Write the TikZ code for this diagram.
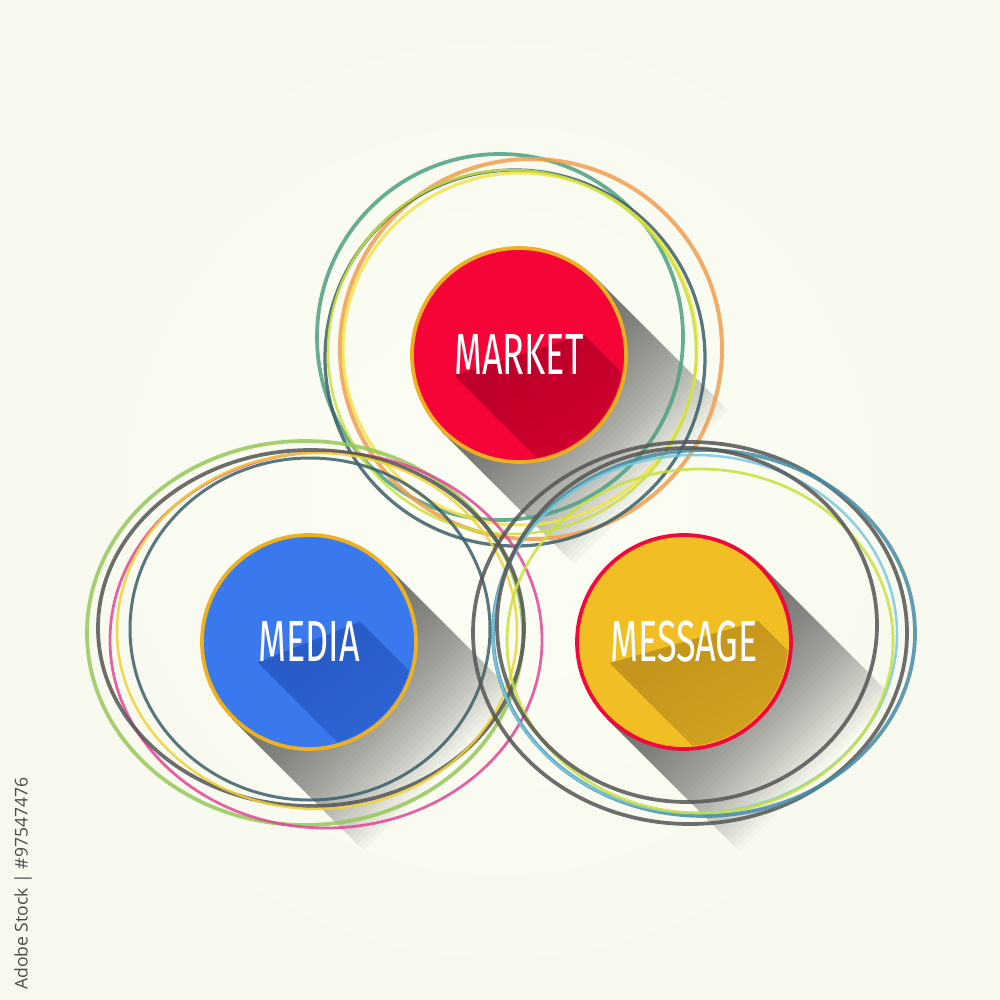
\documentclass[tikz,border=0pt]{standalone}
\usepackage{fontspec}
\newfontfamily\handfont[FakeStretch=0.62]{Fira Sans}
\newfontfamily\idfont{Open Sans}
\usetikzlibrary{fadings}

\definecolor{paper}{RGB}{252,253,244}
\definecolor{paperedge}{RGB}{248,249,238}
\definecolor{gold}{RGB}{236,176,32}
\definecolor{mktred}{RGB}{245,5,55}
\definecolor{mktdark}{RGB}{190,0,42}
\definecolor{medblue}{RGB}{58,120,238}
\definecolor{meddark}{RGB}{40,92,200}
\definecolor{msgyellow}{RGB}{241,190,35}
\definecolor{msgdark}{RGB}{196,150,28}
\definecolor{msgrim}{RGB}{240,10,60}
\definecolor{ringteal}{RGB}{78,160,130}
\definecolor{ringorange}{RGB}{240,160,80}
\definecolor{ringslate}{RGB}{60,95,105}
\definecolor{ringyellow}{RGB}{242,228,70}
\definecolor{ringlime}{RGB}{200,225,60}
\definecolor{ringgreen}{RGB}{150,200,90}
\definecolor{ringpink}{RGB}{225,70,150}
\definecolor{ringgray}{RGB}{85,85,85}
\definecolor{ringgold}{RGB}{240,210,50}
\definecolor{ringsteel}{RGB}{70,140,165}
\definecolor{ringsky}{RGB}{120,200,225}

% word shadows get lighter towards the rim
\pgfdeclarehorizontalshading{wordshade}{100bp}{color(0bp)=(transparent!0); color(30bp)=(transparent!0); color(85bp)=(transparent!70); color(100bp)=(transparent!70)}
\pgfdeclarefading{wordfade}{\pgfuseshading{wordshade}}

\pgfdeclarelayer{back}
\pgfdeclarelayer{shadows}
\pgfdeclarelayer{rings}
\pgfdeclarelayer{front}
\pgfsetlayers{back,shadows,rings,main,front}

\tikzset{
  bubble/.style={circle, minimum size=42.8mm, inner sep=0pt, line width=0.75mm},
  bubbletext/.style={font=\handfont\fontsize{33}{33}\selectfont, inner sep=0pt, text=white},
  ring/.style={opacity=0.85}
}

\begin{document}
\begin{tikzpicture}[x=0.2mm, y=-0.2mm]
\useasboundingbox (0,0) rectangle (1000,1000);
\begin{pgfonlayer}{back}
  \shade[inner color=paper, outer color=paperedge] (0,0) rectangle (1000,1000);
\end{pgfonlayer}

% the three discs
\node[bubble, fill=mktred, draw=gold] (market) at (519,355) {};
\node[bubble, fill=medblue, draw=gold] (media) at (309,642) {};
\node[bubble, fill=msgyellow, draw=msgrim] (message) at (684,642) {};

\begin{pgfonlayer}{front}
  \node[bubbletext] (market-text) at (market) {MARKET};
  \node[bubbletext] (media-text) at (media) {MEDIA};
  \node[bubbletext] (message-text) at (message) {MESSAGE};
\end{pgfonlayer}

% long shadows: stacked thin layers, so they thin out towards the end
\begin{pgfonlayer}{shadows}
  \foreach \b in {market,media,message}
    \foreach \k in {1,...,40}{
      \pgfmathsetmacro\d{3.3*\k}
      \fill[black!70, opacity=0.036]
        (\b.45) -- ([shift={(\d,\d)}]\b.45) -- ([shift={(\d,\d)}]\b.225) -- (\b.225) -- cycle;
    }
\end{pgfonlayer}

% shadows of the words
\foreach \b/\dk in {market/mktdark, media/meddark, message/msgdark}{
  \begin{scope}
    \clip (\b) circle [radius=104];
    \fill[\dk, path fading=wordfade, fading angle=-45]
      (\b-text.north east) -- ([shift={(130,130)}]\b-text.north east)
      -- ([shift={(130,130)}]\b-text.south west) -- (\b-text.south west) -- cycle;
  \end{scope}
}

% scribbled rings
\begin{pgfonlayer}{rings}
  \foreach \b/\dx/\dy/\rx/\ry/\col/\lw in {
      market/-19/-18/183/183/ringteal/0.75mm,
      market/12/-6/191/190/ringorange/0.8mm,
      market/-4/3/190/188/ringslate/0.65mm,
      market/1/-6/177/176/ringyellow/0.6mm,
      market/-7/-3/184/182/ringlime/0.5mm,
      media/-4/-9/218/192/ringgreen/0.75mm,
      media/17/-2/216/188/ringpink/0.55mm,
      media/2/-14/213/178/ringgray/0.75mm,
      media/8/-11/200/178/ringgold/0.5mm,
      media/1/-13/180/171/ringslate/0.6mm,
      message/6/-9/217/191/ringgray/0.75mm,
      message/20/-9/211/183/ringsteel/0.75mm,
      message/11/-8/202/179/ringsky/0.5mm,
      message/16/-1/193/172/ringlime/0.55mm,
      message/3/-17/190/177/ringgray/0.75mm}
    \draw[ring, draw=\col, line width=\lw] ([shift={(\dx,\dy)}]\b) ellipse [x radius=\rx, y radius=\ry];
\end{pgfonlayer}

\node[rotate=90, anchor=west, text=black!70, font=\idfont\fontsize{10}{11}\selectfont] (stockid) at (23,996) {Adobe Stock | \#97547476};
\end{tikzpicture}
\end{document}
